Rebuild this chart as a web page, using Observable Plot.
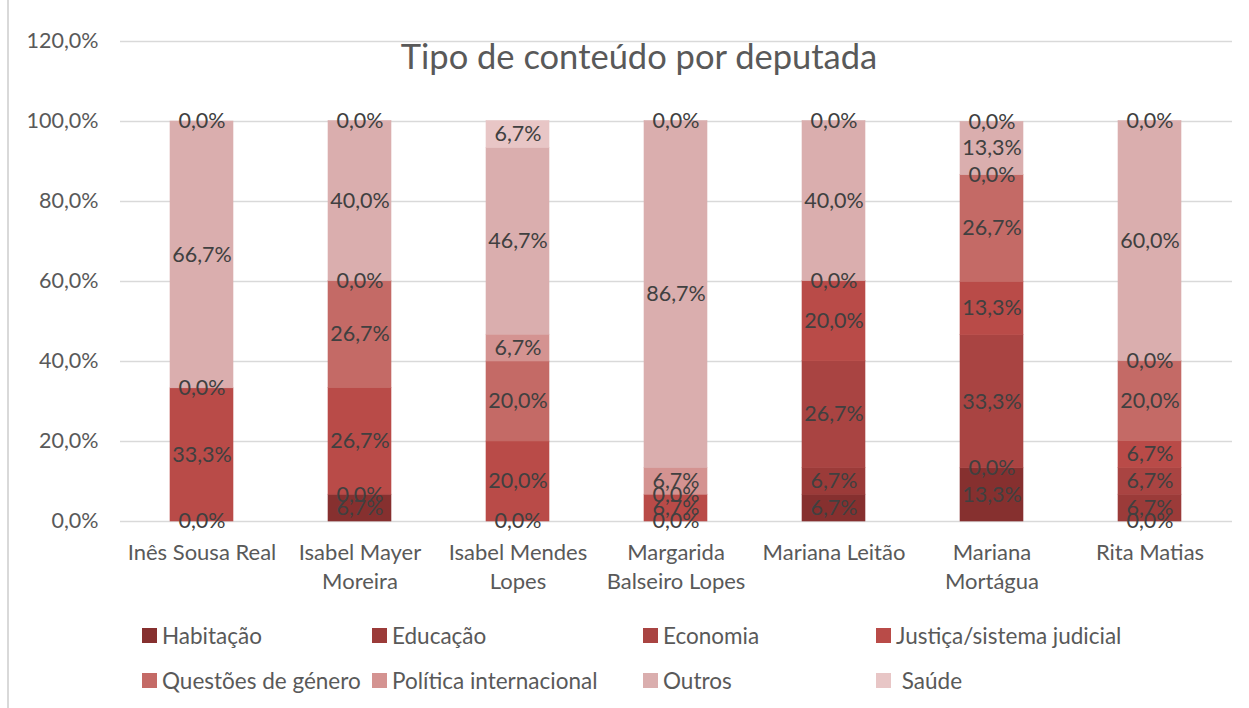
<!DOCTYPE html>
<html>
<head>
<meta charset="utf-8">
<script src="https://cdn.jsdelivr.net/npm/d3@7"></script>
<script src="https://cdn.jsdelivr.net/npm/@observablehq/plot@0.6"></script>
<style>
  html, body { margin: 0; padding: 0; background: #fff; }
  #wrap { position: relative; width: 1249px; height: 708px; overflow: hidden; font-family: Lato, "Open Sans", sans-serif; }
  #border { position: absolute; left: 7px; top: 0; width: 2px; height: 708px; background: #d9d9d9; }
  #title { position: absolute; left: 0; width: 1278px; top: 35px; text-align: center; font-size: 34.5px; color: #595959; }
  .leg { position: absolute; display: flex; align-items: center; font-size: 22.5px; color: #595959; white-space: nowrap; }
  .sw { width: 15px; height: 15px; margin-right: 5px; }
  #chart { position: absolute; left: 0; top: 0; }
</style>
</head>
<body>
<div id="wrap">
  <div id="chart"></div>
  <div id="border"></div>
  <div id="title">Tipo de conteúdo por deputada</div>
  <div id="legend"></div>
</div>
<script>
const deputies = ["Inês Sousa Real","Isabel Mayer Moreira","Isabel Mendes Lopes","Margarida Balseiro Lopes","Mariana Leitão","Mariana Mortágua","Rita Matias"];
const deputyLabels = ["Inês Sousa Real","Isabel Mayer\nMoreira","Isabel Mendes\nLopes","Margarida\nBalseiro Lopes","Mariana Leitão","Mariana\nMortágua","Rita Matias"];
const series = ["Habitação","Educação","Economia","Justiça/sistema judicial","Questões de género","Política internacional","Outros","Saúde"];
const colors = ["#86302F","#9B3B39","#A94442","#B94B48","#C46A66","#D49391","#DAAEAE","#E8C6C6"];

// values in %, null = no data label / no segment
const habitacao = [null, 6.7, null, null, 6.7, 13.3, 0.0];
const educacao  = [null, 0.0, null, null, 6.7, 0.0, 6.7];
const economia  = [0.0, null, 0.0, 0.0, 26.7, 33.3, 6.7];
const justica   = [33.3, 26.7, 20.0, 6.7, 20.0, 13.3, 6.7];
const questoes  = [0.0, 26.7, 20.0, 0.0, 0.0, 26.7, 20.0];
const politica  = [null, 0.0, 6.7, 6.7, null, 0.0, 0.0];
const outros    = [66.7, 40.0, 46.7, 86.7, 40.0, 13.3, 60.0];
const saude     = [0.0, 0.0, 6.7, 0.0, 0.0, 0.0, 0.0];

const yTicks = [0, 20, 40, 60, 80, 100, 120];

const seriesValues = [habitacao, educacao, economia, justica, questoes, politica, outros, saude];
const rows = [];
series.forEach((s, i) => {
  deputies.forEach((d, j) => {
    const v = seriesValues[i][j];
    if (v !== null) rows.push({deputy: d, series: s, value: v});
  });
});

const pct = v => v.toFixed(1).replace(".", ",") + "%";
const labelOf = new Map(deputies.map((d, i) => [d, deputyLabels[i]]));
const stackOpts = {x: "deputy", y: "value", z: "series", order: series};

const chart = Plot.plot({
  width: 1249,
  height: 610,
  marginTop: 41,
  marginBottom: 89,
  marginLeft: 120,
  marginRight: 17,
  style: {fontFamily: "Lato, 'Open Sans', sans-serif", fontSize: "21.5px", color: "#595959", background: "transparent"},
  x: {domain: deputies, paddingInner: 0.6, paddingOuter: 0.3, label: null},
  y: {domain: [0, 120], label: null},
  color: {domain: series, range: colors},
  marks: [
    Plot.gridY({ticks: yTicks, stroke: "#d9d9d9", strokeOpacity: 1, strokeWidth: 1.5}),
    Plot.barY(rows, Plot.stackY({...stackOpts, fill: "series", stroke: "series", strokeWidth: 0.6})),
    Plot.text(rows, Plot.stackY({...stackOpts, text: d => pct(d.value), fill: "#404040", fontSize: 21.5})),
    Plot.axisY({ticks: yTicks, tickFormat: pct, tickSize: 0, tickPadding: 22, fill: "#595959", fontSize: 21.5, label: null}),
    Plot.axisX({tickFormat: d => labelOf.get(d), tickSize: 0, tickPadding: 17, fill: "#595959", fontSize: 22, lineHeight: 1.35, label: null})
  ]
});
document.getElementById("chart").appendChild(chart);

// legend
const legCols = [142, 372, 643, 876];
const legRows = [635, 680];
const legend = document.getElementById("legend");
series.forEach((s, i) => {
  const el = document.createElement("div");
  el.className = "leg";
  el.style.left = legCols[i % 4] + "px";
  el.style.top = (legRows[Math.floor(i / 4)] - 14) + "px";
  el.style.height = "28px";
  el.innerHTML = `<span class="sw" style="background:${colors[i]}"></span><span>${i === 7 ? "&nbsp;" : ""}${s}</span>`;
  legend.appendChild(el);
});
</script>
</body>
</html>
